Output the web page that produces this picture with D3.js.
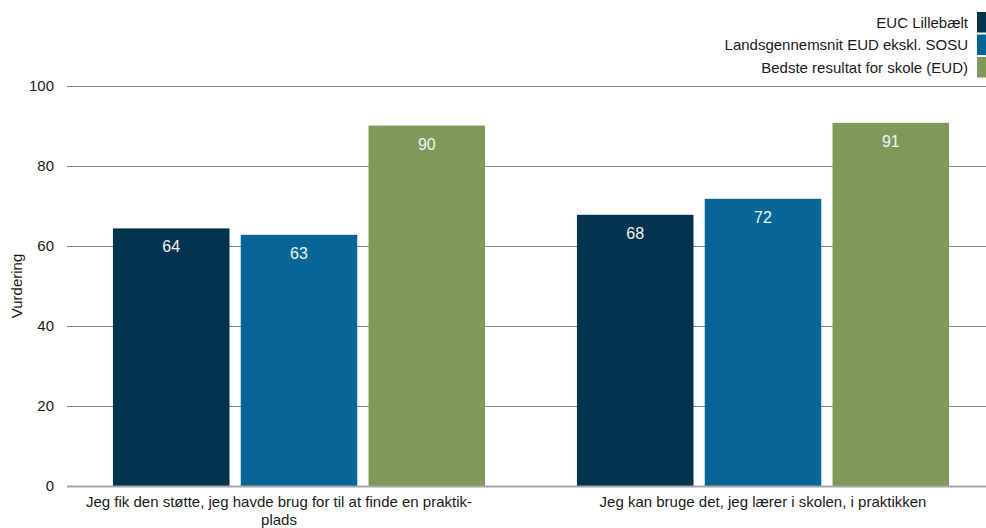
<!DOCTYPE html>
<html>
<head>
<meta charset="utf-8">
<script src="https://cdn.jsdelivr.net/npm/d3@7"></script>
<style>
  body { margin: 0; background: #fff; }
  svg { display: block; font-family: "Liberation Sans", Arial, sans-serif; }
</style>
</head>
<body>
<div id="vis-holder"></div>
<script>
// chart data
const categories = [
  "Jeg fik den støtte, jeg havde brug for til at finde en praktik-plads",
  "Jeg kan bruge det, jeg lærer i skolen, i praktikken"
];
// wrapped lines for the x tick labels
const categoryLines = [
  ["Jeg fik den støtte, jeg havde brug for til at finde en praktik-", "plads"],
  ["Jeg kan bruge det, jeg lærer i skolen, i praktikken"]
];
const seriesNames = ["EUC Lillebælt", "Landsgennemsnit EUD ekskl. SOSU", "Bedste resultat for skole (EUD)"];
const eucValues = [64.4, 67.8];
const landsValues = [62.8, 71.8];
const bedsteValues = [90.1, 90.8];
const yTicks = [0, 20, 40, 60, 80, 100];
const yLabel = "Vurdering";

const seriesValues = [eucValues, landsValues, bedsteValues];
const colors = ["#02344f", "#086598", "#7f995a"];

// Set margins and dimensions
const width = 986;
const height = 528;
const margin = { top: 86, right: 0, bottom: 42, left: 67 };

const svg = d3.select("#vis-holder")
  .append("svg")
  .attr("width", width)
  .attr("height", height);

// Scales
const y = d3.scaleLinear()
  .domain([0, 100])
  .range([height - margin.bottom, margin.top]);

const x0 = d3.scaleBand()
  .domain(d3.range(categories.length))
  .range([margin.left, 995])
  .paddingInner(0.198)
  .paddingOuter(0.099);

const x1 = d3.scaleBand()
  .domain(d3.range(seriesNames.length))
  .range([0, x0.bandwidth()])
  .paddingInner(0.088);

// gridlines
svg.append("g")
  .selectAll("line")
  .data(yTicks.filter(d => d > 0))
  .enter()
  .append("line")
    .attr("x1", margin.left)
    .attr("x2", width)
    .attr("y1", d => Math.round(y(d)) + 0.5)
    .attr("y2", d => Math.round(y(d)) + 0.5)
    .attr("stroke", "#868686")
    .attr("stroke-width", 1);

// y axis labels
const yAxis = svg.append("g")
  .attr("transform", `translate(${margin.left}, 0)`)
  .call(d3.axisLeft(y).tickValues(yTicks).tickSize(0).tickPadding(13))
  .attr("font-size", "15px")
  .attr("font-family", "Liberation Sans, Arial, sans-serif");
yAxis.select(".domain").remove();
yAxis.selectAll("text").attr("fill", "#1a1a1a");

// y axis title
svg.append("text")
  .attr("transform", `translate(22, ${y(50)}) rotate(-90)`)
  .attr("text-anchor", "middle")
  .attr("font-size", "15px")
  .attr("fill", "#1a1a1a")
  .text(yLabel);

// bars
const groups = svg.selectAll(".grp")
  .data(categories)
  .enter()
  .append("g")
    .attr("class", "grp")
    .attr("transform", (d, i) => `translate(${x0(i)}, 0)`);

groups.selectAll("rect")
  .data((d, i) => seriesValues.map((s, j) => ({ s: j, v: s[i] })))
  .enter()
  .append("rect")
    .attr("x", d => x1(d.s))
    .attr("y", d => y(d.v))
    .attr("width", x1.bandwidth())
    .attr("height", d => y(0) - y(d.v))
    .attr("fill", d => colors[d.s]);

// value labels inside bars
groups.selectAll("text.val")
  .data((d, i) => seriesValues.map((s, j) => ({ s: j, v: s[i] })))
  .enter()
  .append("text")
    .attr("class", "val")
    .attr("x", d => x1(d.s) + x1.bandwidth() / 2)
    .attr("y", d => y(d.v) + 24)
    .attr("text-anchor", "middle")
    .attr("font-size", "16px")
    .attr("fill", "#f2f2f2")
    .text(d => Math.round(d.v));

// baseline
svg.append("line")
  .attr("x1", margin.left)
  .attr("x2", width)
  .attr("y1", y(0) + 0.5)
  .attr("y2", y(0) + 0.5)
  .attr("stroke", "#a6a6a6")
  .attr("stroke-width", 2);

// x axis labels
const labelOffset = [-20, 0];
categoryLines.forEach((lines, i) => {
  const t = svg.append("text")
    .attr("text-anchor", "middle")
    .attr("font-size", "15px")
    .attr("fill", "#1a1a1a");
  lines.forEach((ln, k) => {
    t.append("tspan")
      .attr("x", x0(i) + x0.bandwidth() / 2 + labelOffset[i])
      .attr("y", y(0) + 21 + k * 18)
      .text(ln);
  });
});

// legend
const legend = svg.append("g");
seriesNames.forEach((name, i) => {
  legend.append("rect")
    .attr("x", 977)
    .attr("y", 12 + i * 22.5)
    .attr("width", 12)
    .attr("height", 20.5)
    .attr("fill", colors[i]);
  legend.append("text")
    .attr("x", 968)
    .attr("y", 27.5 + i * 22.5)
    .attr("text-anchor", "end")
    .attr("font-size", "15px")
    .attr("fill", "#1a1a1a")
    .text(name);
});
</script>
</body>
</html>
